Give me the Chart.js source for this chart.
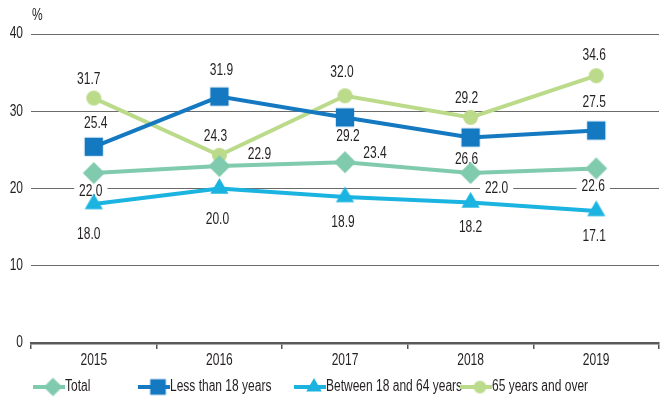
<!DOCTYPE html>
<html>
<head>
<meta charset="utf-8">
<script src="https://cdn.jsdelivr.net/npm/chart.js@4"></script>
<style>
  html, body { margin: 0; padding: 0; background: #fff; overflow: hidden; }
  canvas { display: block; }
</style>
</head>
<body>
<canvas id="chart" width="660" height="397"></canvas>
<script>
const FONT = "'Liberation Sans', Arial, sans-serif";
const TEXT = "#231f20";
const SQUEEZE = 0.75; // condensed look

// data
const years = ["2015", "2016", "2017", "2018", "2019"];
const seriesNames = ["Total", "Less than 18 years", "Between 18 and 64 years", "65 years and over"];
const total = [22.0, 22.9, 23.4, 22.0, 22.6];
const under18 = [25.4, 31.9, 29.2, 26.6, 27.5];
const from18to64 = [18.0, 20.0, 18.9, 18.2, 17.1];
const over65 = [31.7, 24.3, 32.0, 29.2, 34.6];
const yTicks = [0, 10, 20, 30, 40];

// where each value label sits relative to its point (dx, dy in px)
const labelOffsets = [
  [[-3, 18], [40, -13], [30, -10], [26, 15], [-3, 17]],
  [[2, -24], [2, -27], [3, 18], [-4, 21], [-2, -29]],
  [[-5, 30], [-2, 30], [-2, 25], [0, 24], [-2, 25]],
  [[-5, -20], [-4, -20], [-3, -24], [-4, -20], [-2, -21]]
];

const colors = ["#80cbad", "#1479c1", "#1bb3e0", "#bbdb8a"];
const styles = ["rectRot", "rect", "triangle", "circle"];
const radii = [11, 13, 10.5, 7.5];

function squeezedText(ctx, txt, x, y, align) {
  ctx.save();
  ctx.font = "16px " + FONT;
  ctx.fillStyle = TEXT;
  ctx.textBaseline = "middle";
  ctx.textAlign = align;
  ctx.translate(x, y);
  ctx.scale(SQUEEZE, 1);
  ctx.fillText(txt, 0, 0);
  ctx.restore();
}

function drawMarker(ctx, style, x, y, r, color) {
  ctx.save();
  ctx.fillStyle = color;
  ctx.beginPath();
  if (style === "rectRot") {
    ctx.moveTo(x, y - r); ctx.lineTo(x + r, y); ctx.lineTo(x, y + r); ctx.lineTo(x - r, y);
  } else if (style === "rect") {
    const s = r * Math.SQRT1_2;
    ctx.rect(x - s, y - s, 2 * s, 2 * s);
  } else if (style === "triangle") {
    const a = 2 * Math.PI / 3;
    ctx.moveTo(x, y - r);
    ctx.lineTo(x + Math.sin(a) * r, y - Math.cos(a) * r);
    ctx.lineTo(x + Math.sin(2 * a) * r, y - Math.cos(2 * a) * r);
  } else {
    ctx.arc(x, y, r, 0, Math.PI * 2);
  }
  ctx.closePath();
  ctx.fill();
  ctx.restore();
}

// marker images, so big markers don't make chart.js pad the plot area
function markerImage(i, scale) {
  const r = radii[i] * scale;
  const c = document.createElement("canvas");
  c.width = c.height = Math.ceil(2 * r + 2);
  drawMarker(c.getContext("2d"), styles[i], c.width / 2, c.height / 2, r, colors[i]);
  return c;
}
const markers = colors.map((_, i) => markerImage(i, 1));
const legendMarkers = colors.map((_, i) => markerImage(i, 0.85));

const textLayer = {
  id: "textLayer",
  beforeDatasetsDraw(chart) {
    const ctx = chart.ctx;
    ctx.save();
    ctx.font = "16px " + FONT;
    chart.data.datasets.forEach((ds, i) => {
      const meta = chart.getDatasetMeta(i);
      meta.data.forEach((pt, j) => {
        const txt = ds.data[j].toFixed(1);
        const off = labelOffsets[i][j];
        const x = pt.x + off[0], y = pt.y + off[1];
        const w = ctx.measureText(txt).width * SQUEEZE;
        ctx.fillStyle = "#fff";
        ctx.fillRect(x - w / 2 - 5, y - 7, w + 10, 14);
        squeezedText(ctx, txt, x, y + 1, "center");
      });
    });
    ctx.restore();
  },
  afterDraw(chart) {
    const ctx = chart.ctx;
    const xs = chart.scales.x, ys = chart.scales.y;
    // tick labels
    years.forEach((lab, i) => squeezedText(ctx, lab, xs.getPixelForTick(i), 361, "center"));
    yTicks.forEach(v => squeezedText(ctx, String(v), 23, ys.getPixelForValue(v), "right"));
    // unit
    squeezedText(ctx, "%", 32, 16, "left");
    // legend
    const starts = [33, 138, 294, 460];
    const ly = 387;
    ctx.save();
    seriesNames.forEach((name, i) => {
      const x0 = starts[i];
      ctx.strokeStyle = colors[i];
      ctx.lineWidth = 4;
      ctx.beginPath();
      ctx.moveTo(x0, ly);
      ctx.lineTo(x0 + 32, ly);
      ctx.stroke();
      const m = legendMarkers[i];
      ctx.drawImage(m, x0 + 20 - m.width / 2, ly - m.height / 2);
      squeezedText(ctx, name, x0 + 32, ly, "left");
    });
    ctx.restore();
  }
};

const series = [total, under18, from18to64, over65];

new Chart(document.getElementById("chart"), {
  type: "line",
  data: {
    labels: years,
    datasets: series.map((d, i) => ({
      label: seriesNames[i],
      data: d,
      borderColor: colors[i],
      backgroundColor: colors[i],
      borderWidth: 4,
      tension: 0,
      pointStyle: markers[i],
      pointRadius: 1,
      pointBorderWidth: 0,
      pointHoverRadius: 1,
      fill: false,
      clip: false
    }))
  },
  options: {
    responsive: false,
    animation: false,
    devicePixelRatio: 1,
    layout: { padding: { top: 34, bottom: 30, left: 0, right: 0 } },
    plugins: {
      legend: { display: false },
      tooltip: { enabled: false }
    },
    scales: {
      x: {
        offset: true,
        afterFit(scale) { scale.height = 24; },
        grid: {
          offset: true,
          drawOnChartArea: false,
          drawTicks: true,
          tickLength: 6,
          color: "#555",
          lineWidth: 1.5
        },
        border: { display: true, color: "#5a5a5a", width: 2.5 },
        ticks: { display: false }
      },
      y: {
        min: yTicks[0],
        max: yTicks[yTicks.length - 1],
        afterFit(scale) { scale.width = 31; },
        afterBuildTicks(scale) { scale.ticks = yTicks.map(v => ({ value: v })); },
        border: { display: false },
        grid: {
          drawTicks: false,
          color: ctx => ctx.tick && ctx.tick.value === 0 ? "rgba(0,0,0,0)" : "#6a6a6a",
          lineWidth: 1
        },
        ticks: { display: false }
      }
    }
  },
  plugins: [textLayer]
});
</script>
</body>
</html>
